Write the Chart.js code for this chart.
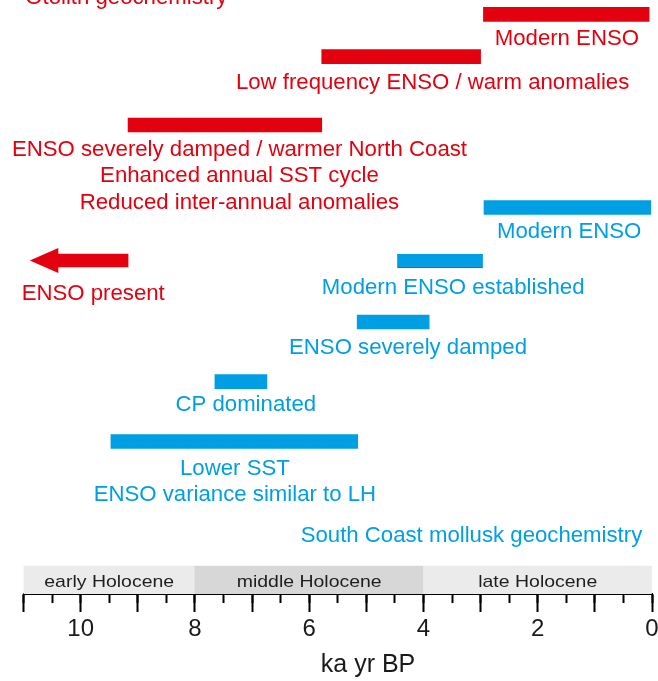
<!DOCTYPE html>
<html><head><meta charset="utf-8">
<script src="https://cdn.jsdelivr.net/npm/chart.js@4.4.1/dist/chart.umd.min.js"></script>
<style>html,body{margin:0;padding:0;background:#fff;}#wrap{width:658px;height:681px;}</style>
</head><body><div id="wrap"><canvas id="c" width="658" height="681"></canvas></div>
<script>
// ---- data (ka yr BP) ----
const xTickValues = [10, 8, 6, 4, 2, 0];
const xTickLabels = ['10', '8', '6', '4', '2', '0'];
const xAxisTitle = 'ka yr BP';
const periodNames = ['early Holocene', 'middle Holocene', 'late Holocene'];
const periodRanges = [[11, 8], [8, 4], [4, 0]];
const otolithTitle = 'Otolith geochemistry';
const otolithBars = [[2.95, 0.05], [5.78, 3.0], [9.17, 5.78]];
const otolithArrow = [9.17, 10.40, 10.89]; // tail, head base, tip
const otolithLabels = [
  ['Modern ENSO'],
  ['Low frequency ENSO / warm anomalies'],
  ['ENSO severely damped / warmer North Coast', 'Enhanced annual SST cycle', 'Reduced inter-annual anomalies']
];
const otolithArrowLabel = 'ENSO present';
const molluskTitle = 'South Coast mollusk geochemistry';
const molluskBars = [[2.94, 0.02], [4.46, 2.96], [5.16, 3.9], [7.65, 6.74], [9.47, 5.15]];
const molluskLabels = [
  ['Modern ENSO'],
  ['Modern ENSO established'],
  ['ENSO severely damped'],
  ['CP dominated'],
  ['Lower SST', 'ENSO variance similar to LH']
];

// ---- layout (row levels on the hidden y axis, label anchors) ----
const L = {
  otolithRows: [14.3, 56.7, 125],
  arrowRow: 260.5,
  molluskRows: [207.5, 261, 322, 381.7, 441.5],
  bandRow: 580,
  otolithTitlePos: [10.97, 4],
  otolithLabelPos: [[1.49, 45], [3.84, 88.5], [7.22, 155.5]],
  arrowLabelPos: [9.78, 299.5],
  molluskLabelPos: [[1.45, 237.5], [3.48, 293.5], [4.27, 353.5], [7.11, 410.5], [7.30, 474.5]],
  molluskTitlePos: [3.16, 541.5],
  axisTitlePos: [4.97, 665],
  lineGap: 26.8,
  bandTextY: 587
};
const RED = '#e3000f', BLUE = '#009fe3';
const FAM = "'Liberation Sans', Arial, Helvetica, sans-serif";

const textPlugin = {
  id: 'texts',
  afterDraw(chart) {
    const {ctx, scales: {x, y}} = chart;
    ctx.save();
    // arrow head
    const tipX = x.getPixelForValue(otolithArrow[2]);
    const baseX = x.getPixelForValue(otolithArrow[1]);
    const cy = y.getPixelForValue(L.arrowRow);
    ctx.fillStyle = RED;
    ctx.beginPath();
    ctx.moveTo(tipX, cy);
    ctx.lineTo(baseX + 0.5, cy - 12.5);
    ctx.lineTo(baseX + 0.5, cy + 12.5);
    ctx.closePath();
    ctx.fill();

    ctx.font = '22.2px ' + FAM;
    ctx.textBaseline = 'alphabetic';
    function lines(arr, pos, color, align) {
      ctx.fillStyle = color;
      ctx.textAlign = align || 'center';
      arr.forEach((t, i) => {
        ctx.fillText(t, x.getPixelForValue(pos[0]), y.getPixelForValue(pos[1] + i * L.lineGap));
      });
    }
    lines([otolithTitle], L.otolithTitlePos, RED, 'left');
    otolithLabels.forEach((arr, i) => lines(arr, L.otolithLabelPos[i], RED));
    lines([otolithArrowLabel], L.arrowLabelPos, RED);
    molluskLabels.forEach((arr, i) => lines(arr, L.molluskLabelPos[i], BLUE));
    lines([molluskTitle], L.molluskTitlePos, BLUE);

    // period names
    ctx.font = '17px ' + FAM;
    ctx.fillStyle = '#1e1e1e';
    ctx.textAlign = 'center';
    periodNames.forEach((n, i) => {
      const cx = x.getPixelForValue((periodRanges[i][0] + periodRanges[i][1]) / 2);
      ctx.save();
      ctx.translate(cx, y.getPixelForValue(L.bandTextY));
      ctx.scale(1.145, 1);
      ctx.fillText(n, 0, 0);
      ctx.restore();
    });

    // x axis title
    ctx.font = '25px ' + FAM;
    ctx.fillStyle = '#1a1a1a';
    ctx.textAlign = 'center';
    ctx.textBaseline = 'middle';
    ctx.fillText(xAxisTitle, x.getPixelForValue(L.axisTitlePos[0]), y.getPixelForValue(L.axisTitlePos[1]));
    ctx.restore();
  }
};

new Chart(document.getElementById('c'), {
  type: 'bar',
  data: {
    datasets: [
      {
        label: 'periods', xAxisID: 'x', yAxisID: 'y',
        data: periodRanges.map(r => ({x: r, y: L.bandRow})),
        backgroundColor: ['#ebebeb', '#d7d7d7', '#ebebeb'],
        barThickness: 28
      },
      {
        label: 'otolith', xAxisID: 'x', yAxisID: 'y',
        data: otolithBars.map((r, i) => ({x: r, y: L.otolithRows[i]})),
        backgroundColor: RED, barThickness: 14
      },
      {
        label: 'otolith arrow', xAxisID: 'x', yAxisID: 'y',
        data: [{x: [otolithArrow[0], otolithArrow[1]], y: L.arrowRow}],
        backgroundColor: RED, barThickness: 13
      },
      {
        label: 'mollusk', xAxisID: 'x', yAxisID: 'y',
        data: molluskBars.map((r, i) => ({x: r, y: L.molluskRows[i]})),
        backgroundColor: BLUE, barThickness: 14,
        borderSkipped: false,
        borderColor: '#4a58a6',
        borderWidth: c => c.dataIndex === 1 ? {top: 0, left: 0, right: 0, bottom: 1.5} : 0
      }
    ]
  },
  options: {
    responsive: false, animation: false, events: [],
    indexAxis: 'y',
    layout: {padding: {left: 23.5, right: 6, top: 0, bottom: 0}},
    plugins: {legend: {display: false}, tooltip: {enabled: false}},
    datasets: {bar: {grouped: false, borderWidth: 0}},
    scales: {
      x: {
        type: 'linear', axis: 'x', min: 0, max: 11, reverse: true, position: 'bottom', z: 1, offset: false,
        border: {display: true, color: '#000', width: 2},
        grid: {drawOnChartArea: false, drawTicks: true, tickLength: 18, tickWidth: 2, tickColor: '#000'},
        ticks: {
          stepSize: 1, autoSkip: false, maxRotation: 0, minRotation: 0, padding: 3,
          color: '#1a1a1a', font: {family: FAM, size: 24},
          callback: v => { const i = xTickValues.indexOf(v); return i >= 0 ? xTickLabels[i] : ''; }
        },
        title: {display: false},
        afterFit: s => { s.height = 87; s.paddingLeft = 0; s.paddingRight = 0; }
      },
      x2: {
        type: 'linear', axis: 'x', min: 0, max: 11, reverse: true, position: {y: 594}, z: 1, offset: false,
        border: {display: false},
        grid: {drawOnChartArea: false, drawTicks: true, tickLength: 9, tickWidth: 2, tickColor: '#000'},
        ticks: {display: false, stepSize: 0.5, maxTicksLimit: 100},
        afterFit: s => { s.height = 0; s.paddingLeft = 0; s.paddingRight = 0; }
      },
      y: {type: 'linear', min: 0, max: 594, reverse: true, display: false, offset: false, grid: {offset: false}}
    }
  },
  plugins: [textPlugin]
});
</script>
</body></html>
